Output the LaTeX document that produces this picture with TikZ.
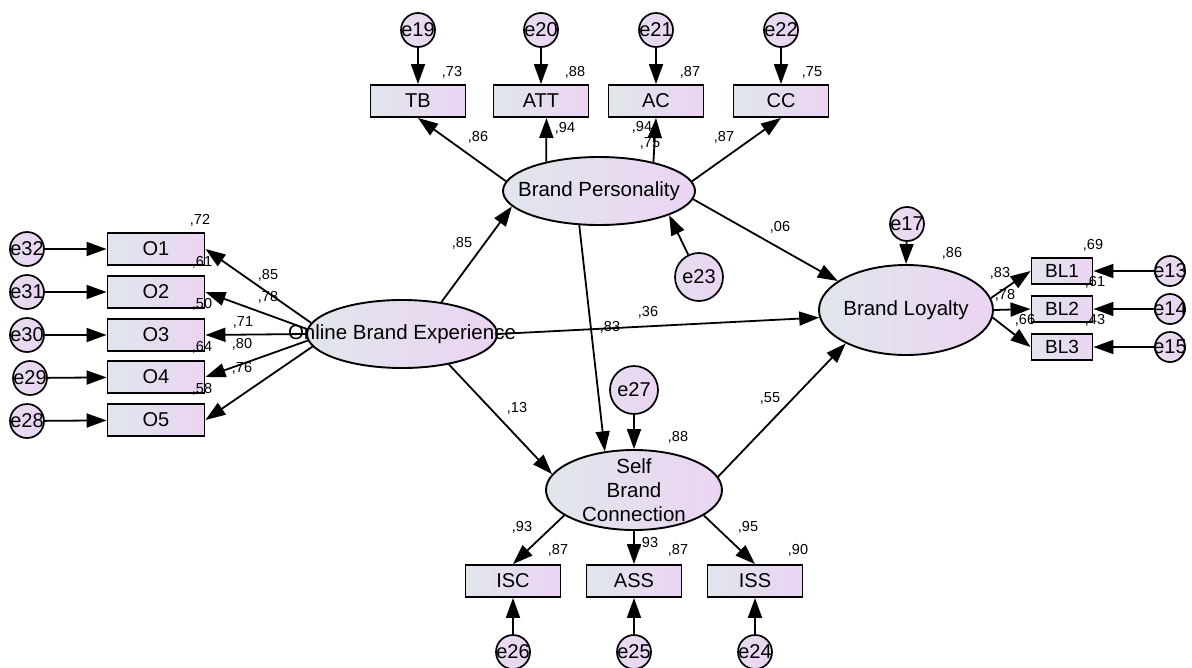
\documentclass[tikz,border=0pt]{standalone}
\usepackage{fontspec}
\setmainfont{Liberation Sans}
\usetikzlibrary{arrows.meta,shapes.geometric}
\definecolor{gl}{HTML}{E1E6EC}
\definecolor{gr}{HTML}{EBD4F2}
\begin{document}
\begin{tikzpicture}[x=1pt,y=-1pt,
 obs/.style={rectangle, draw=black, line width=1.9pt, left color=gl, right color=gr, minimum width=95pt, minimum height=32pt, inner sep=0pt, font=\fontsize{20}{24}\selectfont},
 obsbl/.style={obs, minimum width=61pt, minimum height=26pt, font=\fontsize{19}{22}\selectfont},
 err/.style={circle, draw=black, line width=1.7pt, left color=gl!50!gr, right color=gr, minimum size=34pt, inner sep=0pt, font=\fontsize{20}{24}\selectfont},
 errbig/.style={err, minimum size=48pt},
 errsm/.style={err, minimum size=30pt},
 lat/.style={ellipse, draw=black, line width=1.9pt, left color=gl, right color=gr, inner sep=0pt},
 ltext/.style={font=\fontsize{20.5}{24}\selectfont, inner sep=0pt},
 num/.style={font=\fontsize{14.5}{17}\selectfont, inner sep=0pt},
 arr/.style={line width=1.8pt, -{Triangle[length=20pt,width=14pt]}},
]
\useasboundingbox (0,0) rectangle (1192,667);
% latent variables
\node[lat, minimum width=192pt, minimum height=68pt] (bp) at (599,191) {};
\node[ltext] (bpt) at (bp) {Brand Personality};
\node[lat, minimum width=190pt, minimum height=68pt] (obe) at (402,334) {};
\node[lat, minimum width=174pt, minimum height=90pt] (bl) at (906,310) {};
\node[ltext] (blt) at (bl) {Brand Loyalty};
\node[lat, minimum width=176pt, minimum height=80pt] (sbc) at (634,490) {};
\node[ltext, align=center] (sbct) at (sbc) {Self\\Brand\\Connection};
% top indicators
\node[obs] (tb) at (418,101) {TB};
\node[obs] (att) at (541,101) {ATT};
\node[obs] (ac) at (656,101) {AC};
\node[obs] (cc) at (781,101) {CC};
\node[err] (e19) at (418,30) {\makebox[0pt]{e19}};
\node[err] (e20) at (541,30) {\makebox[0pt]{e20}};
\node[err] (e21) at (656,30) {\makebox[0pt]{e21}};
\node[err] (e22) at (781,30) {\makebox[0pt]{e22}};
\draw[arr] (e19) -- (tb);
\draw[arr] (e20) -- (att);
\draw[arr] (e21) -- (ac);
\draw[arr] (e22) -- (cc);
\node[num] (r19) at (452,72) {,73};
\node[num] (r20) at (575,72) {,88};
\node[num] (r21) at (690,72) {,87};
\node[num] (r22) at (812,72) {,75};
\node[num] (p75) at (650,143) {,75};
\draw[arr] (bp.174) -- (tb.south);
\draw[arr] (bp.151) -- (att.-72);
\draw[arr] (bp.28) -- (ac.south);
\draw[arr] (bp.6) -- (cc.south);
\node[num] (p86) at (478,137) {,86};
\node[num] (p94a) at (565,128) {,94};
\node[num] (p94b) at (642,127) {,94};
\node[num] (p87) at (724,137) {,87};
% left indicators
\node[obs, minimum width=97pt] (o1) at (156,249) {O1};
\node[obs, minimum width=97pt] (o2) at (156,292) {O2};
\node[obs, minimum width=97pt] (o3) at (156,335) {O3};
\node[obs, minimum width=97pt] (o4) at (156,377) {O4};
\node[obs, minimum width=97pt] (o5) at (156,420) {O5};
\node[err] (e32) at (27,249) {\makebox[0pt]{e32}};
\node[err] (e31) at (27,292) {\makebox[0pt]{e31}};
\node[err] (e30) at (27,335) {\makebox[0pt]{e30}};
\node[err] (e29) at (30,378) {\makebox[0pt]{e29}};
\node[err] (e28) at (27,421) {\makebox[0pt]{e28}};
\draw[arr] (e32) -- (o1);
\draw[arr] (e31) -- (o2);
\draw[arr] (e30) -- (o3);
\draw[arr] (e29) -- (o4);
\draw[arr] (e28) -- (o5);
\draw[arr] (obe.173) -- (o1.east);
\draw[arr] (obe.177) -- (o2.east);
\draw[arr] (obe.180) -- (o3.east);
\draw[arr] (obe.184) -- (o4.east);
\draw[arr] (obe.188) -- (o5.east);
\node[num] (r32) at (200,220) {,72};
\node[num] (r31) at (202,262) {,61};
\node[num] (r30) at (202,304) {,50};
\node[num] (r29) at (202,347) {,64};
\node[num] (r28) at (202,389) {,58};
\node[num] (q85) at (268,275) {,85};
\node[num] (q78) at (268,297) {,78};
\node[num] (q71) at (243,322) {,71};
\node[num] (q80) at (242,344) {,80};
\node[num] (q76) at (242,368) {,76};
% right indicators
\node[obsbl] (bl1) at (1062,271) {BL1};
\node[obsbl] (bl2) at (1062,309) {BL2};
\node[obsbl] (bl3) at (1062,347) {BL3};
\node[errsm] (e13) at (1170,271) {\makebox[0pt]{e13}};
\node[errsm] (e14) at (1170,309) {\makebox[0pt]{e14}};
\node[errsm] (e15) at (1170,347) {\makebox[0pt]{e15}};
\draw[arr] (e13) -- (bl1);
\draw[arr] (e14) -- (bl2);
\draw[arr] (e15) -- (bl3);
\draw[arr] (bl.8) -- (bl1.west);
\draw[arr] (bl.0) -- (bl2.west);
\draw[arr] (bl.-5) -- (bl3.west);
\node[num] (r13) at (1093,245) {,69};
\node[num] (r14) at (1095,282) {,61};
\node[num] (r15) at (1095,320) {,43};
\node[num] (s83) at (1000,273) {,83};
\node[num] (s78) at (1005,295) {,78};
\node[num] (s66) at (1025,320) {,66};
% bottom indicators
\node[obs] (isc) at (513,581) {ISC};
\node[obs] (ass) at (634,581) {ASS};
\node[obs] (iss) at (755,581) {ISS};
\node[err] (e26) at (513,652) {\makebox[0pt]{e26}};
\node[err] (e25) at (634,652) {\makebox[0pt]{e25}};
\node[err] (e24) at (755,652) {\makebox[0pt]{e24}};
\draw[arr] (e26) -- (isc);
\draw[arr] (e25) -- (ass);
\draw[arr] (e24) -- (iss);
\draw[arr] (sbc.200) -- (isc.north);
\draw[arr] (sbc.south) -- (ass.north);
\draw[arr] (sbc.-20) -- (iss.north);
\node[num] (t93a) at (522,527) {,93};
\node[num] (r26) at (558,550) {,87};
\node[num] (t93b) at (648,543) {,93};
\node[num] (r25) at (678,550) {,87};
\node[num] (t95) at (748,527) {,95};
\node[num] (r24) at (798,550) {,90};
% structural paths
\node[errbig] (e23) at (699,277) {\makebox[0pt]{e23}};
\node[errbig] (e27) at (634,390) {\makebox[0pt]{e27}};
\node[err] (e17) at (907,224) {\makebox[0pt]{e17}};
\draw[arr] (e23) -- (bp.-19);
\draw[arr] (e27) -- (sbc.north);
\draw[arr] (e17) -- (bl.north);
\draw[arr] (obe.39) -- (bp.190);
\draw[arr] (obe.east) -- (bl.185);
\draw[arr] (bp.240) -- (sbc.127);
\draw[arr] (bp.-5) -- (bl.157);
\draw[arr] (obe.-33) -- (sbc.169);
\draw[arr] (sbc.9) -- (bl.209);
\node[ltext] (obet) at (obe) {Online Brand Experience};
\node[num] (u85) at (462,243) {,85};
\node[num] (u36) at (648,312) {,36};
\node[num] (u83) at (610,327) {,83};
\node[num] (u06) at (780,227) {,06};
\node[num] (u13) at (517,408) {,13};
\node[num] (u55) at (770,398) {,55};
\node[num] (r27) at (678,437) {,88};
\node[num] (r17) at (952,253) {,86};
\end{tikzpicture}
\end{document}
